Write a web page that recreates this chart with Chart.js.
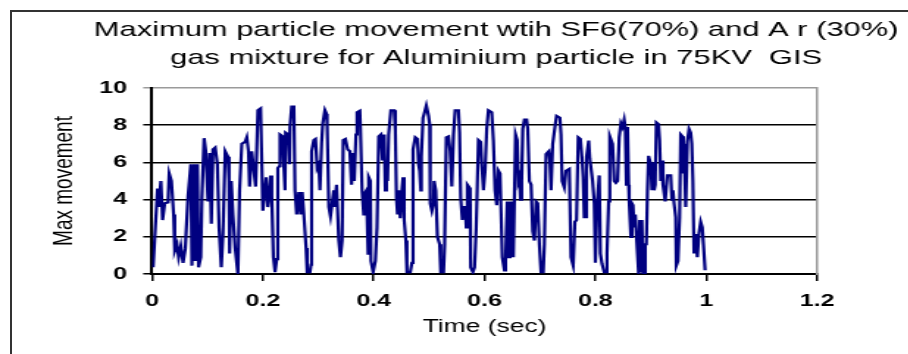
<!DOCTYPE html>
<html>
<head>
<meta charset="utf-8">
<script src="https://cdn.jsdelivr.net/npm/chart.js@4.4.1/dist/chart.umd.min.js"></script>
<style>
  html, body { margin: 0; padding: 0; background: #fff; overflow: hidden; width: 908px; height: 354px; }
  #frame { position: absolute; left: 10px; top: 10px; width: 1000px; height: 400px; border: 2px solid #333; }
  /* the reference picture is stretched sideways, so the canvas is too */
  #wrap { position: absolute; left: 0; top: 0; width: 675px; height: 354px; transform: scaleX(1.47); transform-origin: 0 0; }
</style>
</head>
<body>
<div id="frame"></div>
<div id="wrap"><canvas id="chart" width="675" height="354"></canvas></div>
<script>
// Chart data
const titleLines = ['Maximum particle movement wtih SF6(70%) and A r (30%)', 'gas mixture for Aluminium particle in 75KV  GIS'];
const xTickLabels = ['0', '0.2', '0.4', '0.6', '0.8', '1', '1.2'];
const yTickLabels = ['0', '2', '4', '6', '8', '10'];

const timeSec = [
  0.002, 0.006, 0.010, 0.012, 0.016, 0.019, 0.023, 0.029, 0.031, 0.035,
  0.039, 0.041, 0.045, 0.048, 0.052, 0.056, 0.060, 0.065, 0.070, 0.072,
  0.076, 0.078, 0.082, 0.084, 0.088, 0.090, 0.094, 0.097, 0.101, 0.104,
  0.107, 0.110, 0.114, 0.118, 0.121, 0.125, 0.128, 0.132, 0.137, 0.139,
  0.140, 0.143, 0.146, 0.150, 0.155, 0.158, 0.162, 0.168, 0.171, 0.174,
  0.176, 0.180, 0.187, 0.191, 0.196, 0.200, 0.206, 0.209, 0.212, 0.214,
  0.216, 0.219, 0.222, 0.225, 0.227, 0.230, 0.231, 0.236, 0.237, 0.240,
  0.241, 0.246, 0.248, 0.249, 0.252, 0.256, 0.258, 0.261, 0.265, 0.268,
  0.271, 0.274, 0.278, 0.280, 0.285, 0.287, 0.288, 0.292, 0.295, 0.298,
  0.301, 0.303, 0.306, 0.308, 0.312, 0.315, 0.316, 0.319, 0.322, 0.325,
  0.328, 0.329, 0.333, 0.337, 0.340, 0.343, 0.345, 0.349, 0.353, 0.357,
  0.360, 0.363, 0.365, 0.368, 0.370, 0.375, 0.376, 0.379, 0.382, 0.383,
  0.387, 0.390, 0.391, 0.394, 0.395, 0.399, 0.403, 0.406, 0.409, 0.413,
  0.416, 0.419, 0.421, 0.423, 0.425, 0.427, 0.431, 0.437, 0.439, 0.441,
  0.443, 0.445, 0.448, 0.451, 0.453, 0.455, 0.458, 0.460, 0.466, 0.469,
  0.471, 0.475, 0.479, 0.481, 0.483, 0.485, 0.486, 0.489, 0.491, 0.495,
  0.499, 0.501, 0.502, 0.505, 0.508, 0.509, 0.512, 0.515, 0.519, 0.521,
  0.526, 0.528, 0.531, 0.535, 0.538, 0.541, 0.544, 0.547, 0.553, 0.555,
  0.557, 0.560, 0.562, 0.565, 0.567, 0.569, 0.574, 0.575, 0.579, 0.582,
  0.585, 0.587, 0.589, 0.593, 0.595, 0.598, 0.601, 0.604, 0.607, 0.613,
  0.616, 0.619, 0.622, 0.625, 0.628, 0.632, 0.636, 0.638, 0.641, 0.644,
  0.646, 0.648, 0.650, 0.652, 0.654, 0.656, 0.659, 0.661, 0.663, 0.665,
  0.667, 0.669, 0.672, 0.676, 0.678, 0.681, 0.684, 0.687, 0.690, 0.693,
  0.696, 0.699, 0.702, 0.706, 0.708, 0.711, 0.716, 0.718, 0.720, 0.723,
  0.728, 0.730, 0.736, 0.738, 0.740, 0.744, 0.747, 0.753, 0.756, 0.760,
  0.763, 0.766, 0.769, 0.773, 0.776, 0.778, 0.780, 0.782, 0.784, 0.788,
  0.790, 0.795, 0.798, 0.800, 0.803, 0.807, 0.809, 0.812, 0.816, 0.819,
  0.821, 0.824, 0.826, 0.831, 0.834, 0.837, 0.840, 0.843, 0.846, 0.849,
  0.852, 0.854, 0.856, 0.858, 0.860, 0.861, 0.864, 0.866, 0.868, 0.870,
  0.872, 0.874, 0.876, 0.878, 0.880, 0.882, 0.884, 0.886, 0.888, 0.890,
  0.892, 0.894, 0.896, 0.900, 0.902, 0.904, 0.906, 0.908, 0.910, 0.914,
  0.916, 0.918, 0.920, 0.922, 0.926, 0.928, 0.930, 0.936, 0.938, 0.940,
  0.942, 0.945, 0.946, 0.949, 0.952, 0.954, 0.957, 0.959, 0.960, 0.963,
  0.966, 0.969, 0.972, 0.974, 0.976, 0.978, 0.981, 0.984, 0.987, 0.990,
  0.993, 0.995, 0.998
];

const movement = [
  0.36, 2.5, 4.6, 3.6, 5.0, 2.9, 3.8, 3.85, 5.4, 5.0,
  3.2, 1.25, 1.6, 0.9, 1.5, 0.6, 1.35, 4.2, 5.9, 0.45,
  5.9, 0.7, 5.9, 0.36, 0.9, 4.1, 7.3, 6.6, 3.9, 6.5,
  2.7, 6.7, 6.8, 5.9, 2.5, 0.36, 2.15, 6.6, 6.3, 5.0,
  1.1, 5.0, 3.2, 1.4, 0.0, 4.5, 7.0, 7.1, 7.35, 6.6,
  4.7, 6.6, 4.7, 8.8, 8.9, 3.4, 5.2, 3.6, 4.3, 5.3,
  4.2, 0.9, 0.1, 0.8, 5.7, 5.8, 7.5, 7.4, 6.3, 4.5,
  7.6, 7.5, 5.9, 7.9, 9.0, 9.0, 4.5, 3.2, 4.4, 3.2,
  4.4, 3.2, 1.4, 0.1, 0.1, 0.5, 6.6, 7.2, 7.26, 5.7,
  5.9, 4.5, 7.0, 8.06, 8.8, 8.6, 8.06, 3.6, 3.1, 3.8,
  4.5, 3.6, 4.8, 1.8, 0.9, 1.8, 7.2, 7.26, 6.7, 6.6,
  4.8, 6.5, 5.0, 7.5, 8.7, 8.78, 7.9, 4.5, 3.2, 4.3,
  4.5, 1.1, 5.2, 5.0, 0.7, 0.1, 0.7, 2.5, 7.4, 7.5,
  6.1, 7.5, 4.5, 5.9, 5.0, 7.5, 8.8, 8.8, 7.7, 4.1,
  3.2, 4.5, 3.0, 4.5, 5.2, 2.9, 1.8, 0.1, 0.1, 0.6,
  6.7, 7.35, 7.26, 5.9, 5.55, 4.5, 6.3, 8.4, 8.6, 9.05,
  8.5, 8.06, 3.8, 3.4, 3.8, 5.0, 4.5, 2.0, 1.6, 0.1,
  0.1, 1.6, 7.35, 7.4, 6.6, 4.7, 7.5, 8.8, 8.8, 7.6,
  4.1, 2.9, 3.6, 3.6, 2.5, 4.8, 4.6, 0.36, 0.1, 0.36,
  2.5, 4.8, 7.2, 7.1, 5.9, 4.5, 5.55, 7.8, 8.8, 8.7,
  7.17, 4.5, 3.7, 5.55, 5.4, 0.9, 0.2, 0.7, 3.9, 0.9,
  3.9, 0.9, 3.9, 0.9, 0.9, 7.5, 7.2, 5.0, 5.2, 4.0,
  5.0, 7.8, 8.3, 8.3, 7.8, 5.0, 4.8, 2.3, 1.8, 3.9,
  3.8, 1.6, 0.1, 0.1, 1.6, 6.45, 6.6, 6.1, 4.5, 7.0,
  8.1, 8.5, 8.4, 7.5, 5.0, 4.65, 5.55, 5.65, 0.9, 0.45,
  2.8, 2.9, 7.35, 7.26, 6.2, 5.2, 3.05, 3.05, 6.3, 7.17,
  6.2, 5.0, 3.8, 0.6, 3.7, 5.3, 1.1, 0.55, 0.1, 0.1,
  1.1, 3.9, 7.4, 7.0, 5.0, 4.9, 5.0, 7.35, 8.1, 7.9,
  8.3, 7.9, 4.8, 7.9, 4.8, 3.9, 2.0, 3.8, 3.7, 2.5,
  3.2, 3.2, 1.1, 0.0, 2.9, 0.1, 2.9, 0.0, 0.0, 1.6,
  1.6, 4.5, 6.35, 5.9, 4.5, 6.0, 4.5, 4.8, 8.15, 8.06,
  7.17, 5.0, 6.1, 4.8, 3.9, 4.65, 5.3, 5.3, 4.0, 4.5,
  3.8, 3.05, 0.45, 0.7, 3.05, 7.5, 7.4, 5.4, 7.0, 3.6,
  7.1, 7.8, 7.6, 7.0, 5.0, 1.1, 2.15, 0.9, 2.2, 2.8,
  2.5, 1.6, 0.2
];

const fontFamily = "'Liberation Sans', Arial, sans-serif";
const ctx = document.getElementById('chart').getContext('2d');

const chart = new Chart(ctx, {
  type: 'line',
  data: {
    datasets: [{
      label: 'Max movement',
      data: timeSec.map((t, i) => ({ x: t, y: movement[i] })),
      borderColor: '#000080',
      borderWidth: 2.2,
      pointRadius: 0,
      tension: 0,
      fill: false
    }]
  },
  options: {
    responsive: false,
    animation: false,
    layout: { padding: 0 },
    plugins: {
      legend: { display: false },
      tooltip: { enabled: false },
      title: {
        display: true,
        text: titleLines,
        color: '#000',
        font: { family: fontFamily, size: 21, weight: 'normal', lineHeight: 28 / 21 },
        padding: { top: 16, bottom: 16 }
      }
    },
    scales: {
      x: {
        type: 'linear',
        min: 0,
        max: 1.2,
        ticks: {
          stepSize: 0.2,
          color: '#000',
          padding: 10,
          maxRotation: 0,
          font: { family: fontFamily, size: 17, weight: 'bold' },
          callback: v => xTickLabels[Math.round(v / 0.2)]
        },
        grid: { drawOnChartArea: false, drawTicks: true, tickLength: 7, color: '#000', lineWidth: 1.5 },
        border: { color: '#000', width: 2 },
        title: {
          display: true,
          text: 'Time (sec)',
          color: '#000',
          font: { family: fontFamily, size: 18 },
          padding: { top: 0, bottom: 16 }
        },
        afterFit(scale) { scale.height = 80; }
      },
      y: {
        min: 0,
        max: 10,
        ticks: {
          stepSize: 2,
          color: '#000',
          padding: 11,
          font: { family: fontFamily, size: 17, weight: 'bold' },
          callback: v => yTickLabels[Math.round(v / 2)]
        },
        grid: {
          color: c => (c.tick && c.tick.value === 10) ? '#9a9a9a' : '#000',
          lineWidth: 1.5,
          tickLength: 6,
          drawTicks: true
        },
        border: { color: '#000', width: 2 },
        title: {
          display: true,
          text: 'Max movement',
          color: '#000',
          font: { family: fontFamily, size: 19 },
          padding: { top: 32, bottom: 0 }
        },
        afterFit(scale) { scale.width = 103.4; }
      },
      // empty right axis: draws the grey right edge of the plot and keeps the title centred
      y2: {
        position: 'right',
        display: true,
        min: 0,
        max: 10,
        grid: { display: false },
        ticks: { display: false },
        border: { display: true, color: '#9a9a9a', width: 1.5 },
        afterFit(scale) { scale.width = 675 - 555.8; }
      }
    }
  }
});
</script>
</body>
</html>
